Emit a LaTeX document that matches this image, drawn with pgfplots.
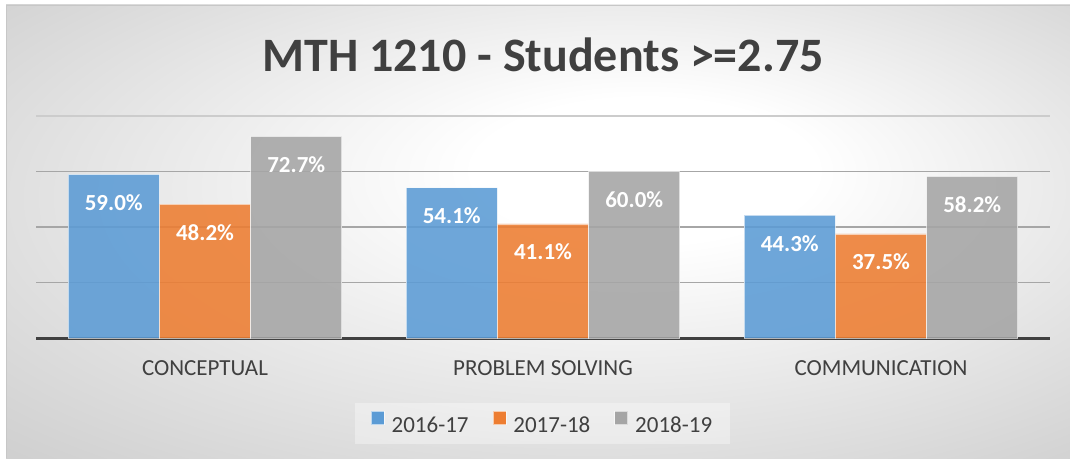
\documentclass[border=0pt]{standalone}
\usepackage{pgfplots}
\pgfplotsset{compat=1.18}
\usepackage{fontspec}
\setmainfont{Carlito}
\definecolor{cblue}{RGB}{91,155,213}
\definecolor{corange}{RGB}{237,125,49}
\definecolor{cgray}{RGB}{165,165,165}
\definecolor{ctext}{RGB}{64,64,64}
\definecolor{bgedge}{RGB}{188,188,188}
\definecolor{bgmid}{RGB}{226,226,226}
\pgfdeclareradialshading{bgshade}{\pgfpoint{6bp}{8bp}}{color(0bp)=(white); color(8bp)=(white); color(26bp)=(bgmid); color(50bp)=(bgedge)}
\begin{document}
\begin{tikzpicture}
\useasboundingbox (0,0) rectangle (1070pt,458pt);
\fill[white] (0,0) rectangle (1070pt,458pt);
\shade[shading=bgshade] (6pt,0pt) rectangle (1070pt,453pt);
\draw[black!22, line width=0.8pt] (6pt,0pt) -- (6pt,453pt) -- (1070pt,453pt);
\node[anchor=base, font=\bfseries\fontsize{48}{48}\selectfont, text=ctext, inner sep=0pt] at (543pt,386pt) {MTH 1210 - Students >=2.75};
\begin{axis}[
  at={(36pt,120pt)}, anchor=south west,
  scale only axis, width=1014pt, height=222pt,
  xmin=-0.5, xmax=2.5, ymin=0, ymax=80,
  ybar, bar width=0.27,
  xtick={0,1,2}, xticklabels={CONCEPTUAL,PROBLEM SOLVING,COMMUNICATION},
  xticklabel style={anchor=base, yshift=-37pt, font=\fontsize{23}{23}\selectfont, text=ctext},
  ytick={20,40,60}, yticklabels={},
  extra y ticks={80}, extra y tick labels={},
  extra y tick style={major grid style={black!20, line width=1.2pt}},
  ymajorgrids, major grid style={black!35, line width=1.2pt},
  axis lines*=left, separate axis lines,
  x axis line style={line width=3pt, color=ctext, -},
  y axis line style={draw=none},
  major tick length=0pt, tick style={draw=none},
  /pgf/number format/assume math mode=true,
  nodes near coords={\pgfmathprintnumber[fixed, fixed zerofill, precision=1]{\pgfplotspointmeta}\%},
  every node near coord/.append style={anchor=base, yshift=-36pt, font=\bfseries\fontsize{23}{23}\selectfont, text=white, text opacity=1},
  legend columns=3,
  legend style={at={(axis description cs:0.4995,-0.385)}, anchor=center, fill=white, fill opacity=0.35, text opacity=1, draw=none, font=\fontsize{23}{23}\selectfont, text=ctext, /tikz/every even column/.append style={column sep=22pt}, /tikz/every odd column/.append style={column sep=5pt}, inner xsep=16pt, inner ysep=8pt},
  legend image code/.code={\draw[#1, fill opacity=1, draw opacity=0.6] (0pt,0.5pt) rectangle (13pt,14pt);},
]
\addplot[fill=cblue, draw=white, fill opacity=0.88, draw opacity=0.6, line width=0.8pt, bar shift=-0.27] coordinates {(0,59.0) (1,54.1) (2,44.3)};
\addplot[fill=corange, draw=white, fill opacity=0.88, draw opacity=0.6, line width=0.8pt, bar shift=0] coordinates {(0,48.2) (1,41.1) (2,37.5)};
\addplot[fill=cgray, draw=white, fill opacity=0.88, draw opacity=0.6, line width=0.8pt, bar shift=0.27] coordinates {(0,72.7) (1,60.0) (2,58.2)};
\legend{2016-17, 2017-18, 2018-19}
\end{axis}
\end{tikzpicture}
\end{document}
